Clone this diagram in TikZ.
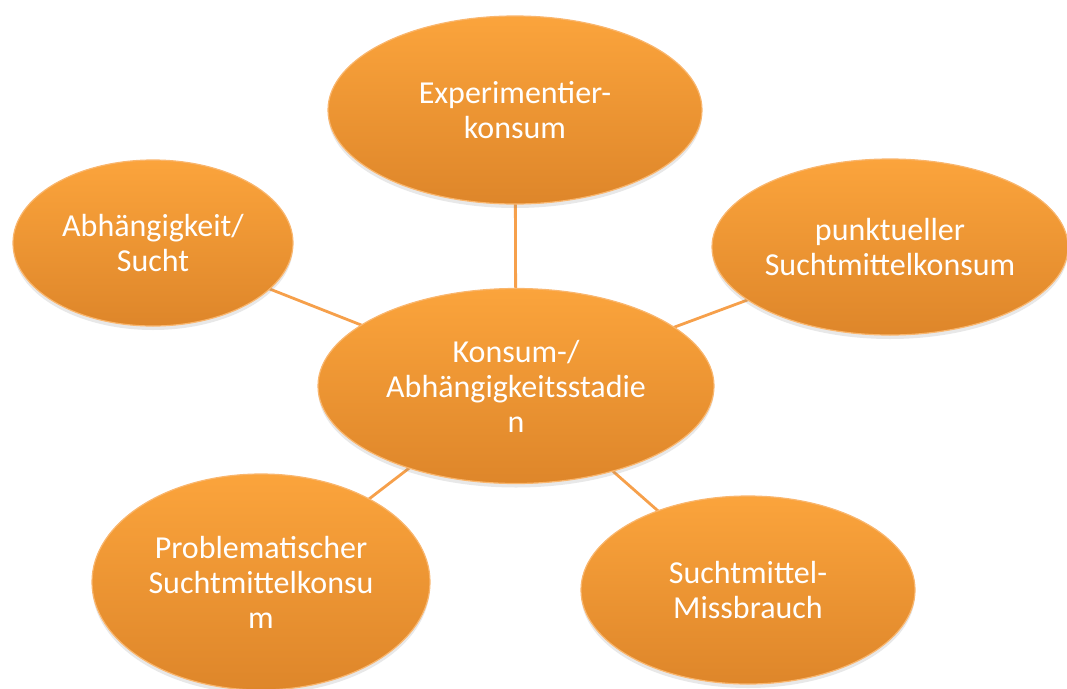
\documentclass[tikz,border=0pt]{standalone}
\usepackage{fontspec}
\setmainfont{Carlito}
\usetikzlibrary{shapes.geometric,shadows,backgrounds}
\definecolor{orTop}{RGB}{251,164,60}
\definecolor{orBot}{RGB}{222,134,42}
\definecolor{orEdge}{RGB}{249,182,110}
\definecolor{orLine}{RGB}{246,160,75}
\tikzset{
  bubble/.style={ellipse, inner sep=0pt, top color=orTop, bottom color=orBot,
    draw=orEdge, line width=1.2pt, text=white, align=center,
    font=\fontsize{32}{35}\selectfont,
    drop shadow={opacity=0.18, shadow xshift=0pt, shadow yshift=-4pt}},
  link/.style={draw=orLine, line width=2.8pt}
}
\begin{document}
\begin{tikzpicture}[x=1pt,y=-1pt]
\useasboundingbox (0,0) rectangle (1067,688);
\node[bubble, minimum width=374pt, minimum height=188pt] (exp) at (515,110) {Experimentier-\\konsum};
\node[bubble, minimum width=280pt, minimum height=166pt] (abh) at (153,243) {Abhängigkeit/\\Sucht};
\node[bubble, minimum width=356pt, minimum height=176pt] (pkt) at (890,247) {punktueller\\Suchtmittelkonsum};
\node[bubble, minimum width=338pt, minimum height=216pt] (prob) at (261,582) {Problematischer\\Suchtmittelkonsu\\m};
\node[bubble, minimum width=334pt, minimum height=188pt] (miss) at (748,590) {Suchtmittel-\\Missbrauch};
\node[bubble, minimum width=396pt, minimum height=195pt] (ctr) at (516,386) {Konsum-/\\Abhängigkeitsstadie\\n};
\begin{pgfonlayer}{background}
\draw[link] (ctr.center) -- (exp.center);
\draw[link] (ctr.center) -- (abh.center);
\draw[link] (ctr.center) -- (pkt.center);
\draw[link] (ctr.center) -- (prob.center);
\draw[link] (ctr.center) -- (miss.center);
\end{pgfonlayer}
\end{tikzpicture}
\end{document}
